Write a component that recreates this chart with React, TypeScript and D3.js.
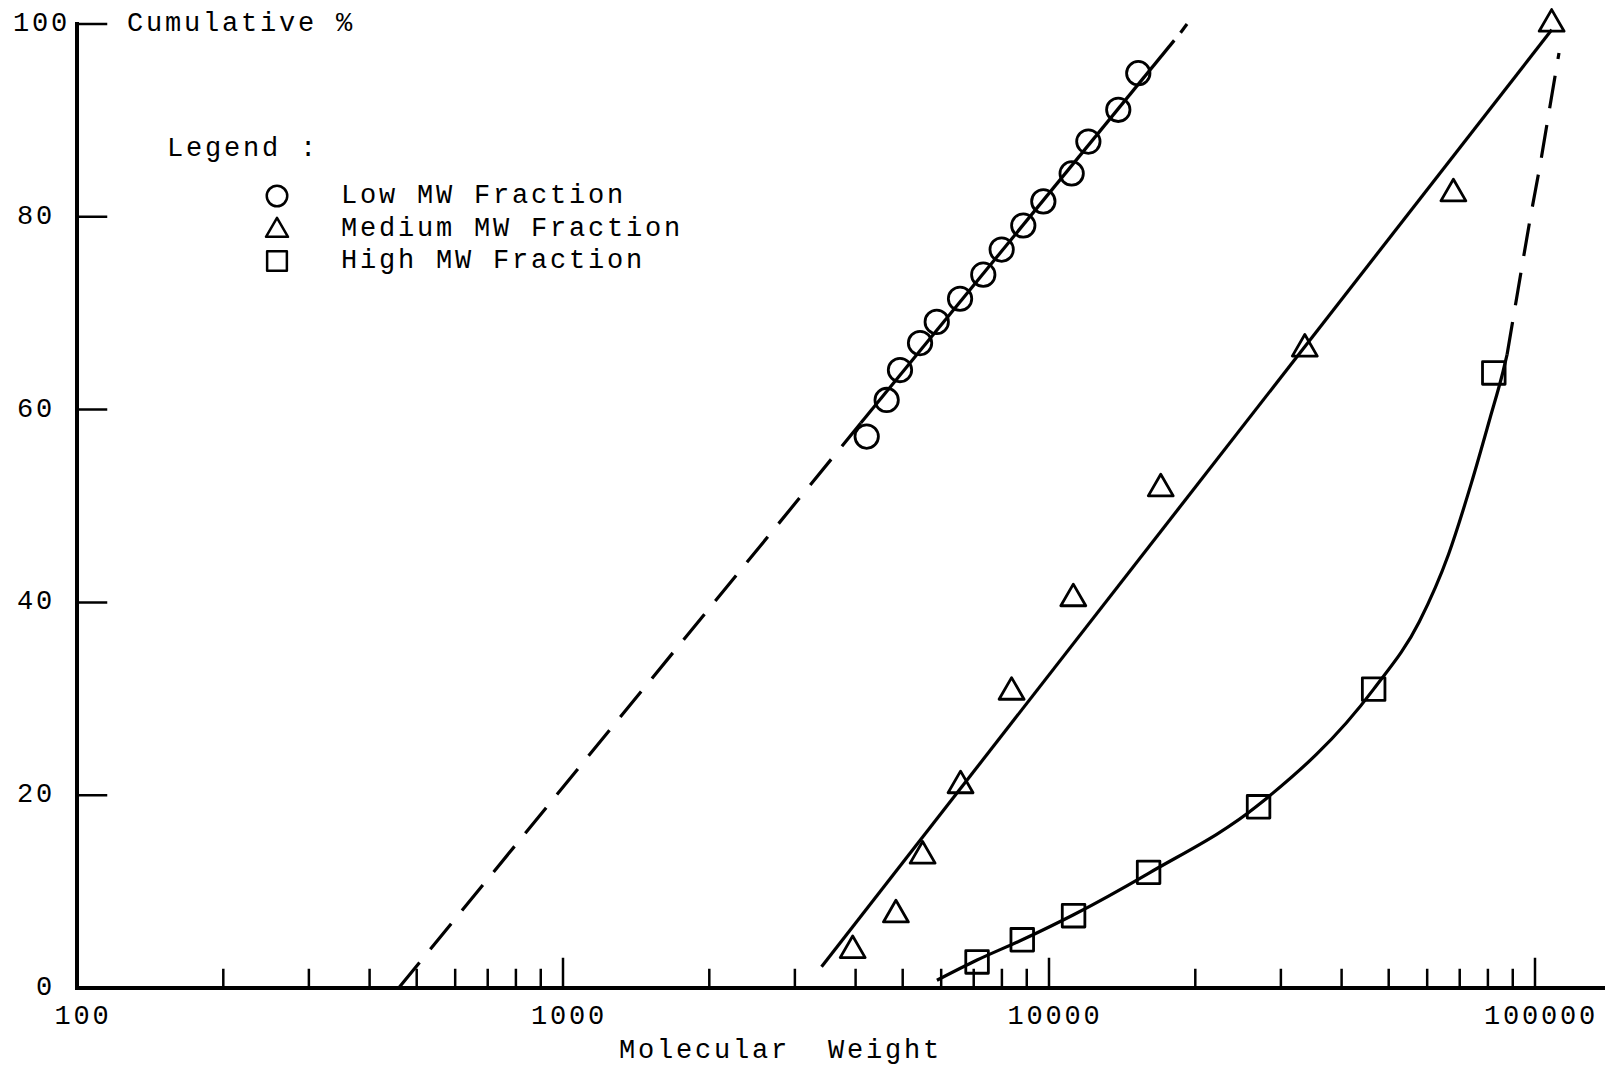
import React from 'react';
import * as d3 from 'd3';

// measured points (molecular weight, cumulative %)
const lowMW = [4216, 4634, 4936, 5428, 5875, 6561, 7324, 7991, 8853, 9735, 11134, 12050, 13885, 15265];
const lowPct = [57.2, 61.0, 64.1, 66.9, 69.1, 71.5, 74.0, 76.6, 79.1, 81.6, 84.5, 87.8, 91.1, 94.9];
const medMW = [3945, 4842, 5495, 6577, 8375, 11220, 16980, 33600, 67930, 108200];
const medPct = [3.9, 7.6, 13.7, 21.0, 30.7, 40.4, 51.8, 66.3, 82.4, 100];
const highMW = [7112, 8810, 11235, 16030, 26990, 46560, 82270];
const highPct = [2.7, 5.0, 7.5, 12.0, 18.8, 31.0, 63.8];

// hand drawn fit lines
const lowDashMW = [459, 4100];
const lowDashPct = [0, 58.6];
const lowSolidMW = [4100, 18100];
const lowSolidPct = [58.6, 98.3];
const lowTopMW = [18650, 19230];
const lowTopPct = [99.1, 100];
const medFitMW = [3404, 108250];
const medFitPct = [2.2, 99.4];
const highFitMW = [5880, 7112, 8810, 11235, 16030, 26990, 46560, 57800, 66400, 74000, 80800, 85900, 87600];
const highFitPct = [0.8, 2.9, 5.0, 7.6, 11.9, 19.0, 31.0, 38.0, 45.0, 52.4, 59.1, 63.9, 65.7];
const highDashMW = [87600, 92260, 97660, 102870, 107870, 112040];
const highDashPct = [65.7, 72.4, 79.7, 85.9, 92.1, 97.0];

const xTickValues = [100, 1000, 10000, 100000];
const xTickLabels = ['100', '1000', '10000', '100000'];
const yTickValues = [0, 20, 40, 60, 80, 100];
const yTickLabels = ['0', '20', '40', '60', '80', '100'];

const legendNames = ['Low MW Fraction', 'Medium MW Fraction', 'High MW Fraction'];

const W = 1611, H = 1069;
const FONT = '"Liberation Mono", "DejaVu Sans Mono", monospace';

export default function App() {
  const x = d3.scaleLog().domain([100, 100000]).range([77, 1535]);
  const y = d3.scaleLinear().domain([0, 100]).range([988, 24]);
  const xEnd = 1603;

  const zip = (a: number[], b: number[]) => a.map((v, i) => [v, b[i]] as [number, number]);
  const line = d3.line<[number, number]>().x(d => x(d[0])).y(d => y(d[1]));
  const curve = d3.line<[number, number]>().x(d => x(d[0])).y(d => y(d[1])).curve(d3.curveMonotoneX);

  const circle = d3.symbol().type(d3.symbolCircle).size(430)();
  const tri = d3.symbol().type(d3.symbolTriangle).size(270)();
  const square = d3.symbol().type(d3.symbolSquare).size(510)();
  const lgCircle = d3.symbol().type(d3.symbolCircle).size(330)();
  const lgTri = d3.symbol().type(d3.symbolTriangle).size(210)();
  const lgSquare = d3.symbol().type(d3.symbolSquare).size(390)();

  const ticks = x.ticks().filter(t => t > 100);
  const isMajor = (t: number) => Math.abs(Math.log10(t) - Math.round(Math.log10(t))) < 1e-6;

  const textStyle = { fontFamily: FONT, fontSize: 27, letterSpacing: 2.8, fill: '#000' };
  const legendSyms = [lgCircle, lgTri, lgSquare];

  return (
    <svg width={W} height={H} style={{ position: 'absolute', left: 0, top: 0, background: '#fff' }}>
      <rect width={W} height={H} fill="#fff" />
      {/* axes */}
      <g stroke="#000" strokeLinecap="square">
        <line x1={x(100)} x2={x(100)} y1={y(100)} y2={y(0)} strokeWidth={4} />
        <line x1={x(100)} x2={xEnd} y1={y(0)} y2={y(0)} strokeWidth={4} />
        {yTickValues.filter(v => v > 0).map(v => (
          <line key={v} x1={x(100)} x2={x(100) + 29} y1={y(v)} y2={y(v)} strokeWidth={2.5} />
        ))}
        {ticks.map(t => (
          <line key={t} x1={x(t)} x2={x(t)} y1={y(0)} y2={y(0) - (isMajor(t) ? 29 : 18)} strokeWidth={2.5} />
        ))}
      </g>
      <g style={textStyle}>
        {yTickValues.map((v, i) => (
          <text key={v} x={v === 100 ? 70 : 55} y={y(v)} textAnchor="end" dominantBaseline="central">{yTickLabels[i]}</text>
        ))}
        {xTickValues.map((v, i) => (
          <text key={v} x={x(v) + 6} y={1017} textAnchor="middle" dominantBaseline="central">{xTickLabels[i]}</text>
        ))}
        <text x={127} y={y(100)} dominantBaseline="central">Cumulative %</text>
        <text x={619} y={1051} dominantBaseline="central" xmlSpace="preserve" style={{ whiteSpace: 'pre' }}>{'Molecular  Weight'}</text>
        <text x={167} y={149} dominantBaseline="central">Legend :</text>
        {legendNames.map((n, i) => (
          <text key={n} x={341} y={196 + i * 32.5} dominantBaseline="central">{n}</text>
        ))}
      </g>
      <g fill="none" stroke="#000" strokeWidth={2.5} strokeLinejoin="round">
        {legendSyms.map((p, i) => (
          <path key={i} d={p} transform={`translate(277,${196 + i * 32.5 + (i === 1 ? 2 : 0)})`} />
        ))}
      </g>
      {/* fit lines */}
      <g fill="none" stroke="#000" strokeWidth={3.2}>
        <path d={line(zip(lowDashMW, lowDashPct)) || ''} strokeDasharray="33 17" />
        <path d={line(zip(lowSolidMW, lowSolidPct)) || ''} />
        <path d={line(zip(lowTopMW, lowTopPct)) || ''} />
        <path d={line(zip(medFitMW, medFitPct)) || ''} />
        <path d={curve(zip(highFitMW, highFitPct)) || ''} />
        <path d={curve(zip(highDashMW, highDashPct)) || ''} strokeDasharray="33 17" />
      </g>
      {/* markers */}
      <g fill="none" stroke="#000" strokeWidth={2.8} strokeLinejoin="round">
        {zip(lowMW, lowPct).map((d, i) => (
          <path key={'l' + i} d={circle} transform={`translate(${x(d[0])},${y(d[1])})`} />
        ))}
        {zip(medMW, medPct).map((d, i) => (
          <path key={'m' + i} d={tri} transform={`translate(${x(d[0])},${y(d[1])})`} />
        ))}
        {zip(highMW, highPct).map((d, i) => (
          <path key={'h' + i} d={square} transform={`translate(${x(d[0])},${y(d[1])})`} />
        ))}
      </g>
    </svg>
  );
}
